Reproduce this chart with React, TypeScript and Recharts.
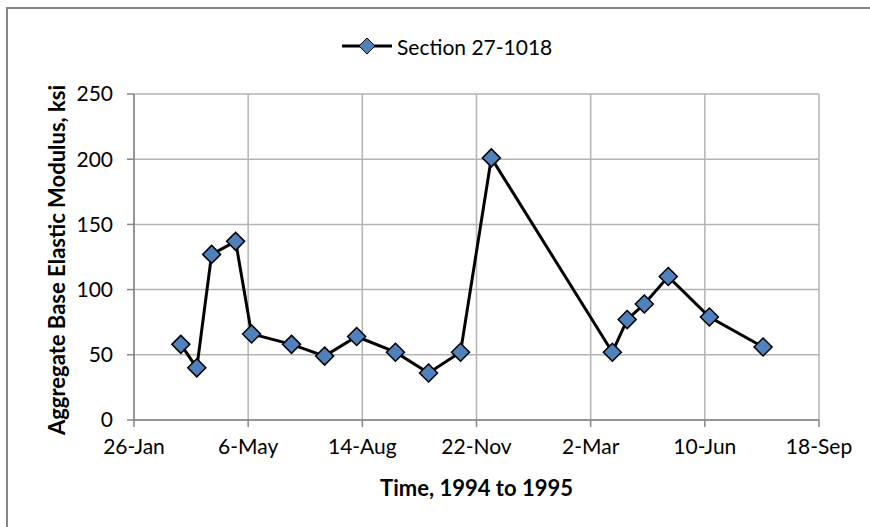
import React from 'react';
import { LineChart, Line, XAxis, YAxis, CartesianGrid, Label } from 'recharts';

// Days after 26-Jan-1994
const seriesName = 'Section 27-1018';
const dayOffsets = [41, 55, 68, 89, 103, 138, 167, 195, 229, 258, 286, 313, 419, 432, 447, 468, 504, 551];
const modulusKsi = [58, 40, 127, 137, 66, 58, 49, 64, 52, 36, 52, 201, 52, 77, 89, 110, 79, 56];
const xTickDays = [0, 100, 200, 300, 400, 500, 600];
const xTickLabels = ['26-Jan', '6-May', '14-Aug', '22-Nov', '2-Mar', '10-Jun', '18-Sep'];
const yTicks = [0, 50, 100, 150, 200, 250];
const xTitle = 'Time, 1994 to 1995';
const yTitle = 'Aggregate Base Elastic Modulus, ksi';

const data = dayOffsets.map((d, i) => ({ day: d, value: modulusKsi[i] }));

const FONT = 'Lato, "Noto Sans", sans-serif';
const FILL = '#4F81BD';

const Diamond = (props: any) => {
  const { cx, cy, index } = props;
  if (cx == null || cy == null) return null;
  const r = 9;
  return (
    <polygon
      key={`d-${index}`}
      points={`${cx},${cy - r} ${cx + r},${cy} ${cx},${cy + r} ${cx - r},${cy}`}
      fill={FILL}
      stroke="#000"
      strokeWidth={1.5}
    />
  );
};

const YTitle = (props: any) => {
  const vb = props.viewBox || {};
  const x = (vb.x ?? 0) + 57;
  const y = (vb.y ?? 0) + (vb.height ?? 0) / 2 + 3;
  return (
    <text
      x={x}
      y={y}
      transform={`rotate(-90, ${x}, ${y})`}
      textAnchor="middle"
      dy="0.35em"
      fontFamily={FONT}
      fontWeight="bold"
      fontSize={22}
      fill="#000"
    >
      {yTitle}
    </text>
  );
};

const XTitle = (props: any) => {
  const vb = props.viewBox || {};
  const x = (vb.x ?? 0) + (vb.width ?? 0) / 2;
  const y = (vb.y ?? 0) + 68;
  return (
    <text x={x} y={y} textAnchor="middle" dy="0.35em" fontFamily={FONT} fontWeight="bold" fontSize={22} fill="#000">
      {xTitle}
    </text>
  );
};

export default function App() {
  return (
    <div style={{ position: 'absolute', left: 0, top: 0, width: 870, height: 527, overflow: 'hidden', background: '#fff' }}>
      <svg width={870} height={527} style={{ position: 'absolute', left: 0, top: 0, display: 'block' }}>
        <polyline points="7,527 7,8 870,8" fill="none" stroke="#868686" strokeWidth={2} />
      </svg>
      <div
        style={{
          position: 'absolute',
          left: 342,
          top: 30,
          height: 32,
          display: 'flex',
          alignItems: 'center',
          fontFamily: FONT,
          fontSize: 21,
          color: '#000',
          whiteSpace: 'nowrap',
        }}
      >
        <svg width={52} height={22} style={{ display: 'block' }}>
          <line x1={0} y1={11} x2={50} y2={11} stroke="#000" strokeWidth={3} />
          <polygon points="25,3 33,11 25,19 17,11" fill={FILL} stroke="#000" strokeWidth={1} />
        </svg>
        <span style={{ marginLeft: 3 }}>{seriesName}</span>
      </div>
      <div style={{ position: 'absolute', left: 0, top: 0 }}>
        <LineChart
          width={870}
          height={527}
          data={data}
          margin={{ top: 94, right: 51, bottom: 0, left: 0 }}
          style={{ fontFamily: FONT }}
        >
          <CartesianGrid stroke="#B3B3B3" strokeWidth={1.5} />
          <XAxis
            dataKey="day"
            type="number"
            domain={[0, 600]}
            ticks={xTickDays}
            tickFormatter={(v: number) => xTickLabels[xTickDays.indexOf(v)] ?? ''}
            axisLine={{ stroke: '#868686', strokeWidth: 1.5 }}
            tickLine={{ stroke: '#868686', strokeWidth: 1.5 }}
            tickSize={7}
            tickMargin={12}
            tick={{ fill: '#000', fontSize: 21, fontFamily: FONT }}
            height={107}
            interval={0}
          >
            <Label content={<XTitle />} />
          </XAxis>
          <YAxis
            type="number"
            domain={[0, 250]}
            ticks={yTicks}
            axisLine={{ stroke: '#868686', strokeWidth: 1.5 }}
            tickLine={{ stroke: '#868686', strokeWidth: 1.5 }}
            tickSize={7}
            tickMargin={14}
            tick={{ fill: '#000', fontSize: 21, fontFamily: FONT }}
            width={134}
            interval={0}
          >
            <Label content={<YTitle />} />
          </YAxis>
          <Line
            type="linear"
            dataKey="value"
            name={seriesName}
            stroke="#000"
            strokeWidth={3}
            dot={<Diamond />}
            activeDot={false}
            isAnimationActive={false}
          />
        </LineChart>
      </div>
    </div>
  );
}
